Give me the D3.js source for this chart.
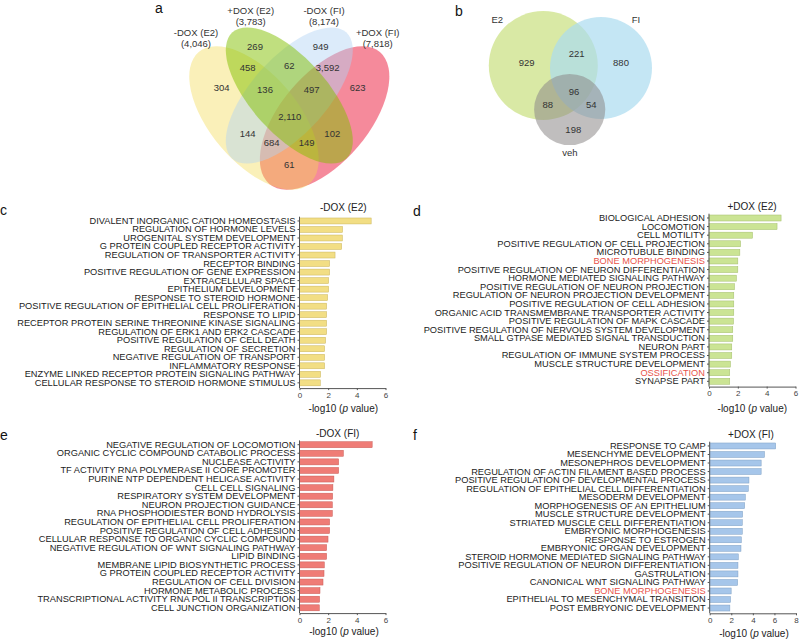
<!DOCTYPE html>
<html>
<head>
<meta charset="utf-8">
<script src="https://cdn.jsdelivr.net/npm/d3@7"></script>
<style>
  body { margin: 0; background: #fff; }
  svg { font-family: "Liberation Sans", Arial, sans-serif; }
</style>
</head>
<body>
<div id="fig"></div>
<script>
// ---- panel a: four-way venn ----
const vennANames = ["-DOX (E2)", "+DOX (E2)", "-DOX (FI)", "+DOX (FI)"];
const vennATotals = ["(4,046)", "(3,783)", "(8,174)", "(7,818)"];
const vennACounts = ["269", "949", "458", "62", "3,592", "304", "136", "497", "623",
                     "2,110", "144", "102", "684", "149", "61"];

// ---- panel b: three-way venn ----
const vennBNames = ["E2", "FI", "veh"];
const vennBCounts = ["929", "221", "880", "96", "88", "54", "198"];

// ---- panel c ----
const termsC = ["DIVALENT INORGANIC CATION HOMEOSTASIS", "REGULATION OF HORMONE LEVELS",
  "UROGENITAL SYSTEM DEVELOPMENT", "G PROTEIN COUPLED RECEPTOR ACTIVITY",
  "REGULATION OF TRANSPORTER ACTIVITY", "RECEPTOR BINDING", "POSITIVE REGULATION OF GENE EXPRESSION",
  "EXTRACELLULAR SPACE", "EPITHELIUM DEVELOPMENT", "RESPONSE TO STEROID HORMONE",
  "POSITIVE REGULATION OF EPITHELIAL CELL PROLIFERATION", "RESPONSE TO LIPID",
  "RECEPTOR PROTEIN SERINE THREONINE KINASE SIGNALING", "REGULATION OF ERK1 AND ERK2 CASCADE",
  "POSITIVE REGULATION OF CELL DEATH", "REGULATION OF SECRETION", "NEGATIVE REGULATION OF TRANSPORT",
  "INFLAMMATORY RESPONSE", "ENZYME LINKED RECEPTOR PROTEIN SIGNALING PATHWAY",
  "CELLULAR RESPONSE TO STEROID HORMONE STIMULUS"];
const valuesC = [5.0, 3.0, 2.99, 2.94, 2.48, 2.1, 2.1, 2.03, 2.03, 1.96,
  1.89, 1.89, 1.89, 1.89, 1.82, 1.75, 1.75, 1.75, 1.47, 1.45];

// ---- panel d ----
const termsD = ["BIOLOGICAL ADHESION", "LOCOMOTION", "CELL MOTILITY", "POSITIVE REGULATION OF CELL PROJECTION",
  "MICROTUBULE BINDING", "BONE MORPHOGENESIS", "POSITIVE REGULATION OF NEURON DIFFERENTIATION",
  "HORMONE MEDIATED SIGNALING PATHWAY", "POSITIVE REGULATION OF NEURON PROJECTION",
  "REGULATION OF NEURON PROJECTION DEVELOPMENT", "POSITIVE REGULATION OF CELL ADHESION",
  "ORGANIC ACID TRANSMEMBRANE TRANSPORTER ACTIVITY", "POSITIVE REGULATION OF MAPK CASCADE",
  "POSITIVE REGULATION OF NERVOUS SYSTEM DEVELOPMENT", "SMALL GTPASE MEDIATED SIGNAL TRANSDUCTION",
  "NEURON PART", "REGULATION OF IMMUNE SYSTEM PROCESS", "MUSCLE STRUCTURE DEVELOPMENT",
  "OSSIFICATION", "SYNAPSE PART"];
const valuesD = [5.0, 4.72, 3.02, 2.19, 2.14, 2.0, 2.0, 1.9, 1.77, 1.72,
  1.72, 1.72, 1.7, 1.65, 1.65, 1.58, 1.58, 1.49, 1.44, 1.44];

// ---- panel e ----
const termsE = ["NEGATIVE REGULATION OF LOCOMOTION", "ORGANIC CYCLIC COMPOUND CATABOLIC PROCESS",
  "NUCLEASE ACTIVITY", "TF ACTIVITY RNA POLYMERASE II CORE PROMOTER ", "PURINE NTP DEPENDENT HELICASE ACTIVITY",
  "CELL CELL SIGNALING", "RESPIRATORY SYSTEM DEVELOPMENT", "NEURON PROJECTION GUIDANCE",
  "RNA PHOSPHODIESTER BOND HYDROLYSIS ", "REGULATION OF EPITHELIAL CELL PROLIFERATION",
  "POSITIVE REGULATION OF CELL ADHESION", "CELLULAR RESPONSE TO ORGANIC CYCLIC COMPOUND",
  "NEGATIVE REGULATION OF WNT SIGNALING PATHWAY", "LIPID BINDING", "MEMBRANE LIPID BIOSYNTHETIC PROCESS",
  "G PROTEIN COUPLED RECEPTOR ACTIVITY", "REGULATION OF CELL DIVISION", "HORMONE METABOLIC PROCESS",
  "TRANSCRIPTIONAL ACTIVITY RNA POL II TRANSCRIPTION ", "CELL JUNCTION ORGANIZATION"];
const valuesE = [5.07, 3.06, 2.73, 2.73, 2.4, 2.33, 2.31, 2.29, 2.29, 2.1,
  2.1, 1.99, 1.89, 1.89, 1.73, 1.71, 1.64, 1.43, 1.4, 1.38];

// ---- panel f ----
const termsF = ["RESPONSE TO CAMP", "MESENCHYME DEVELOPMENT", "MESONEPHROS DEVELOPMENT",
  "REGULATION OF ACTIN FILAMENT BASED PROCESS", "POSITIVE REGULATION OF DEVELOPMENTAL PROCESS",
  "REGULATION OF EPITHELIAL CELL DIFFERENTIATION", "MESODERM DEVELOPMENT", "MORPHOGENESIS OF AN EPITHELIUM",
  "MUSCLE STRUCTURE DEVELOPMENT", "STRIATED MUSCLE CELL DIFFERENTIATION", "EMBRYONIC MORPHOGENESIS",
  "RESPONSE TO ESTROGEN", "EMBRYONIC ORGAN DEVELOPMENT", "STEROID HORMONE MEDIATED SIGNALING PATHWAY",
  "POSITIVE REGULATION OF NEURON DIFFERENTIATION", "GASTRULATION", "CANONICAL WNT SIGNALING PATHWAY",
  "BONE MORPHOGENESIS", "EPITHELIAL TO MESENCHYMAL TRANSITION", "POST EMBRYONIC DEVELOPMENT"];
const valuesF = [6.12, 5.08, 4.77, 4.77, 3.64, 3.58, 3.3, 3.24, 3.05, 3.02,
  3.02, 2.93, 2.9, 2.65, 2.62, 2.62, 2.59, 1.99, 1.93, 1.87];

const highlighted = ["BONE MORPHOGENESIS", "OSSIFICATION"];

const W = 799, H = 639;
const svg = d3.select("#fig").append("svg")
  .attr("width", W)
  .attr("height", H);

function panelLetter(txt, x, y) {
  svg.append("text")
    .attr("x", x).attr("y", y)
    .attr("font-size", 14)
    .attr("fill", "#111")
    .text(txt);
}

// ---------- venn a ----------
function drawVennA() {
  const cx = 289.3, cy = 95.5;
  const vx = d3.scaleLinear().domain([-1, 1]).range([cx - 100, cx + 100]);
  const vy = d3.scaleLinear().domain([-1, 1]).range([cy - 100, cy + 100]);
  const k = 100; // px per unit

  // drawn bottom to top: +DOX (FI), -DOX (E2), -DOX (FI), +DOX (E2)
  const shapes = [
    {c: [0.353, 0.225], r: [0.86, 0.44], rot: -50, fill: "#ed2a48", op: 0.55},
    {c: [-0.353, 0.225], r: [0.86, 0.44], rot: 50, fill: "#f2d950", op: 0.4},
    {c: [0, 0], r: [0.85, 0.38], rot: -48, fill: "#b1d2f4", op: 0.45},
    {c: [0, 0], r: [0.85, 0.38], rot: 48, fill: "#82bf00", op: 0.5}
  ];
  const g = svg.append("g");
  g.selectAll("ellipse").data(shapes).enter().append("ellipse")
    .attr("transform", d => "translate(" + vx(d.c[0]) + "," + vy(d.c[1]) + ")rotate(" + d.rot + ")")
    .attr("rx", d => d.r[0] * k)
    .attr("ry", d => d.r[1] * k)
    .attr("fill", d => d.fill)
    .attr("fill-opacity", d => d.op);

  const spots = [[-0.343, -0.488], [0.314, -0.488], [-0.416, -0.278], [0, -0.298], [0.384, -0.278],
    [-0.676, -0.082], [-0.243, -0.055], [0.224, -0.055], [0.684, -0.082], [0.005, 0.212],
    [-0.416, 0.378], [0.43, 0.378], [-0.176, 0.468], [0.174, 0.468], [0, 0.695]];
  g.selectAll("text.count").data(vennACounts).enter().append("text")
    .attr("class", "count")
    .attr("x", (d, i) => vx(spots[i][0]))
    .attr("y", (d, i) => vy(spots[i][1]) + 3.4)
    .attr("text-anchor", "middle")
    .attr("font-size", 9.5)
    .attr("fill", "#333")
    .text(d => d);

  const heads = [[-0.933, -0.628], [-0.386, -0.848], [0.347, -0.848], [0.884, -0.628]];
  vennANames.forEach(function(n, i) {
    g.append("text").attr("x", vx(heads[i][0])).attr("y", vy(heads[i][1]) + 3.4)
      .attr("text-anchor", "middle").attr("font-size", 9.5).attr("fill", "#333").text(n);
    g.append("text").attr("x", vx(heads[i][0])).attr("y", vy(heads[i][1]) + 14.4)
      .attr("text-anchor", "middle").attr("font-size", 9.5).attr("fill", "#333").text(vennATotals[i]);
  });
}

// ---------- venn b ----------
function drawVennB() {
  const vx = d3.scaleLinear().domain([0, 1]).range([500, 600]);
  const vy = d3.scaleLinear().domain([0, 1]).range([0, 100]);
  const circles = [
    {c: [0.433, 0.655], r: 54.5, fill: "#cfe38f", op: 0.8},
    {c: [1.01, 0.68], r: 51, fill: "#abdcef", op: 0.7},
    {c: [0.697, 1.095], r: 35.6, fill: "#8d8888", op: 0.55}
  ];
  const g = svg.append("g");
  g.selectAll("circle").data(circles).enter().append("circle")
    .attr("cx", d => vx(d.c[0]))
    .attr("cy", d => vy(d.c[1]))
    .attr("r", d => d.r)
    .attr("fill", d => d.fill)
    .attr("fill-opacity", d => d.op);

  const spots = [[0.267, 0.623], [0.767, 0.54], [1.21, 0.623], [0.74, 0.917],
    [0.477, 1.047], [0.913, 1.047], [0.733, 1.3]];
  g.selectAll("text.count").data(vennBCounts).enter().append("text")
    .attr("class", "count")
    .attr("x", (d, i) => vx(spots[i][0]))
    .attr("y", (d, i) => vy(spots[i][1]) + 3.4)
    .attr("text-anchor", "middle")
    .attr("font-size", 9.5)
    .attr("fill", "#333")
    .text(d => d);

  const heads = [[-0.027, 0.193], [1.36, 0.193], [0.7, 1.527]];
  g.selectAll("text.name").data(vennBNames).enter().append("text")
    .attr("class", "name")
    .attr("x", (d, i) => vx(heads[i][0]))
    .attr("y", (d, i) => vy(heads[i][1]) + 3.4)
    .attr("text-anchor", "middle")
    .attr("font-size", 9.5)
    .attr("fill", "#333")
    .text(d => d);
}

// ---------- bar panels ----------
function drawBars(terms, values, o) {
  const g = svg.append("g");
  const x = d3.scaleLinear().domain([0, o.max]).range([o.x0, o.x1]);
  const y = d3.scaleBand().domain(terms).range([o.y0, o.y1]).paddingInner(0.3).paddingOuter(0.15);
  const base = o.y1 + 1;

  g.selectAll("rect").data(values).enter().append("rect")
    .attr("x", x(0))
    .attr("y", (d, i) => y(terms[i]))
    .attr("width", d => x(d) - x(0))
    .attr("height", y.bandwidth())
    .attr("fill", o.fill)
    .attr("stroke", o.stroke)
    .attr("stroke-width", 0.5);

  const ya = g.append("g")
    .attr("transform", "translate(" + x(0) + ",0)")
    .call(d3.axisLeft(y).tickSize(2).tickSizeOuter(0).tickPadding(2));
  ya.select(".domain").attr("stroke", "#555").attr("d", "M0," + o.y0 + "V" + base);
  ya.selectAll(".tick line").attr("stroke", "#555");
  ya.selectAll(".tick text")
    .attr("font-size", 9.25)
    .attr("font-family", null)
    .attr("fill", d => highlighted.indexOf(d) >= 0 ? "#e8534a" : "#222");

  const xa = g.append("g")
    .attr("transform", "translate(0," + base + ")")
    .call(d3.axisBottom(x).tickValues(d3.range(0, o.max + 1, 2)).tickFormat(d3.format("d"))
      .tickSize(2).tickSizeOuter(0).tickPadding(2));
  xa.select(".domain").attr("stroke", "#555");
  xa.selectAll(".tick line").attr("stroke", "#555");
  xa.selectAll(".tick text").attr("font-size", 8).attr("font-family", null).attr("fill", "#444");

  g.append("text")
    .attr("x", o.tx).attr("y", o.ty)
    .attr("text-anchor", "middle")
    .attr("font-size", 10)
    .attr("fill", "#222")
    .text(o.title);

  const lab = g.append("text")
    .attr("x", o.lx).attr("y", o.ly)
    .attr("text-anchor", "middle")
    .attr("font-size", 10)
    .attr("fill", "#222");
  lab.append("tspan").text("-log10 (");
  lab.append("tspan").attr("font-style", "italic").text("p");
  lab.append("tspan").text(" value)");
}

panelLetter("a", 155, 13);
panelLetter("b", 455, 16);
panelLetter("c", 0, 215);
panelLetter("d", 413, 216);
panelLetter("e", 0, 440);
panelLetter("f", 413, 440);

drawVennA();
drawVennB();

drawBars(termsC, valuesC, {max: 6, x0: 299.5, x1: 385.5, y0: 216.7, y1: 387.1,
  fill: "#f2de84", stroke: "#c9b45a", title: "-DOX (E2)", tx: 343.3, ty: 210.5, lx: 343.3, ly: 411.5});
drawBars(termsD, valuesD, {max: 6, x0: 709, x1: 795.5, y0: 213.7, y1: 385.6,
  fill: "#cbe494", stroke: "#a3bd6c", title: "+DOX (E2)", tx: 752, ty: 210, lx: 752.3, ly: 411.5});
drawBars(termsE, valuesE, {max: 6, x0: 299.5, x1: 385.5, y0: 440.4, y1: 612.1,
  fill: "#ef7c76", stroke: "#c95a55", title: "-DOX (FI)", tx: 337.7, ty: 437.3, lx: 344, ly: 635});
drawBars(termsF, valuesF, {max: 8, x0: 709.7, x1: 796, y0: 441.7, y1: 612.3,
  fill: "#a6c6ea", stroke: "#7e9fc4", title: "+DOX (FI)", tx: 751, ty: 437.5, lx: 754, ly: 636.5});
</script>
</body>
</html>
